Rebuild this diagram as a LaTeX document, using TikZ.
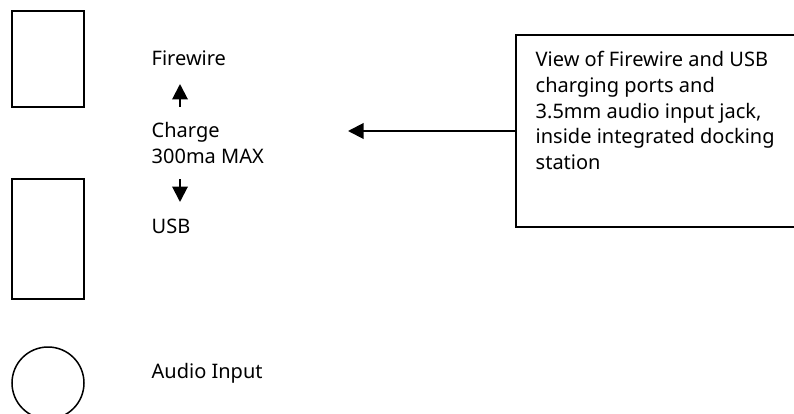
\documentclass[tikz,border=0pt]{standalone}
\usepackage{fontspec}
\setmainfont{Noto Sans}
\usetikzlibrary{arrows.meta}
\tikzset{
  x=1pt,y=-1pt,
  port/.style={draw=black,line width=2pt,minimum width=72pt,inner sep=0pt,outer sep=0pt,fill=white},
  lbl/.style={anchor=north west,inner sep=0pt,align=left,font=\fontsize{20}{25.6}\selectfont},
  arr/.style={line width=2pt,-{Triangle[length=15.5pt,width=15.5pt]}}
}
\begin{document}
\begin{tikzpicture}
\useasboundingbox (0,0) rectangle (794,414);
\node[port,minimum height=96pt] (fw) at (48,59) {};
\node[port,minimum height=120pt] (usb) at (48,239) {};
\node[port,circle,line width=1.5pt,minimum width=72pt] (audio) at (48,383) {};
\node[lbl] (tfw) at (151.5,50.8) {Firewire};
\node[lbl] (tch) at (151.5,122.2) {Charge\\300ma MAX};
\node[lbl] (tusb) at (151.5,219) {USB};
\node[lbl] (tau) at (151.5,363) {Audio Input};
\node[port,minimum width=320pt,minimum height=192pt,anchor=north west] (call) at (516,35) {};
\node[lbl] (tcall) at (535.5,51.5) {View of Firewire and USB\\charging ports and\\3.5mm audio input jack,\\inside integrated docking\\station};
\coordinate (upA) at (180,107);
\coordinate (upB) at (180,84);
\coordinate (dnA) at (180,179);
\coordinate (dnB) at (180,202);
\coordinate (lf) at (348,131);
\draw[arr] (upA) -- (upB);
\draw[arr] (dnA) -- (dnB);
\draw[arr] (call.west) -- (lf);
\end{tikzpicture}
\end{document}
